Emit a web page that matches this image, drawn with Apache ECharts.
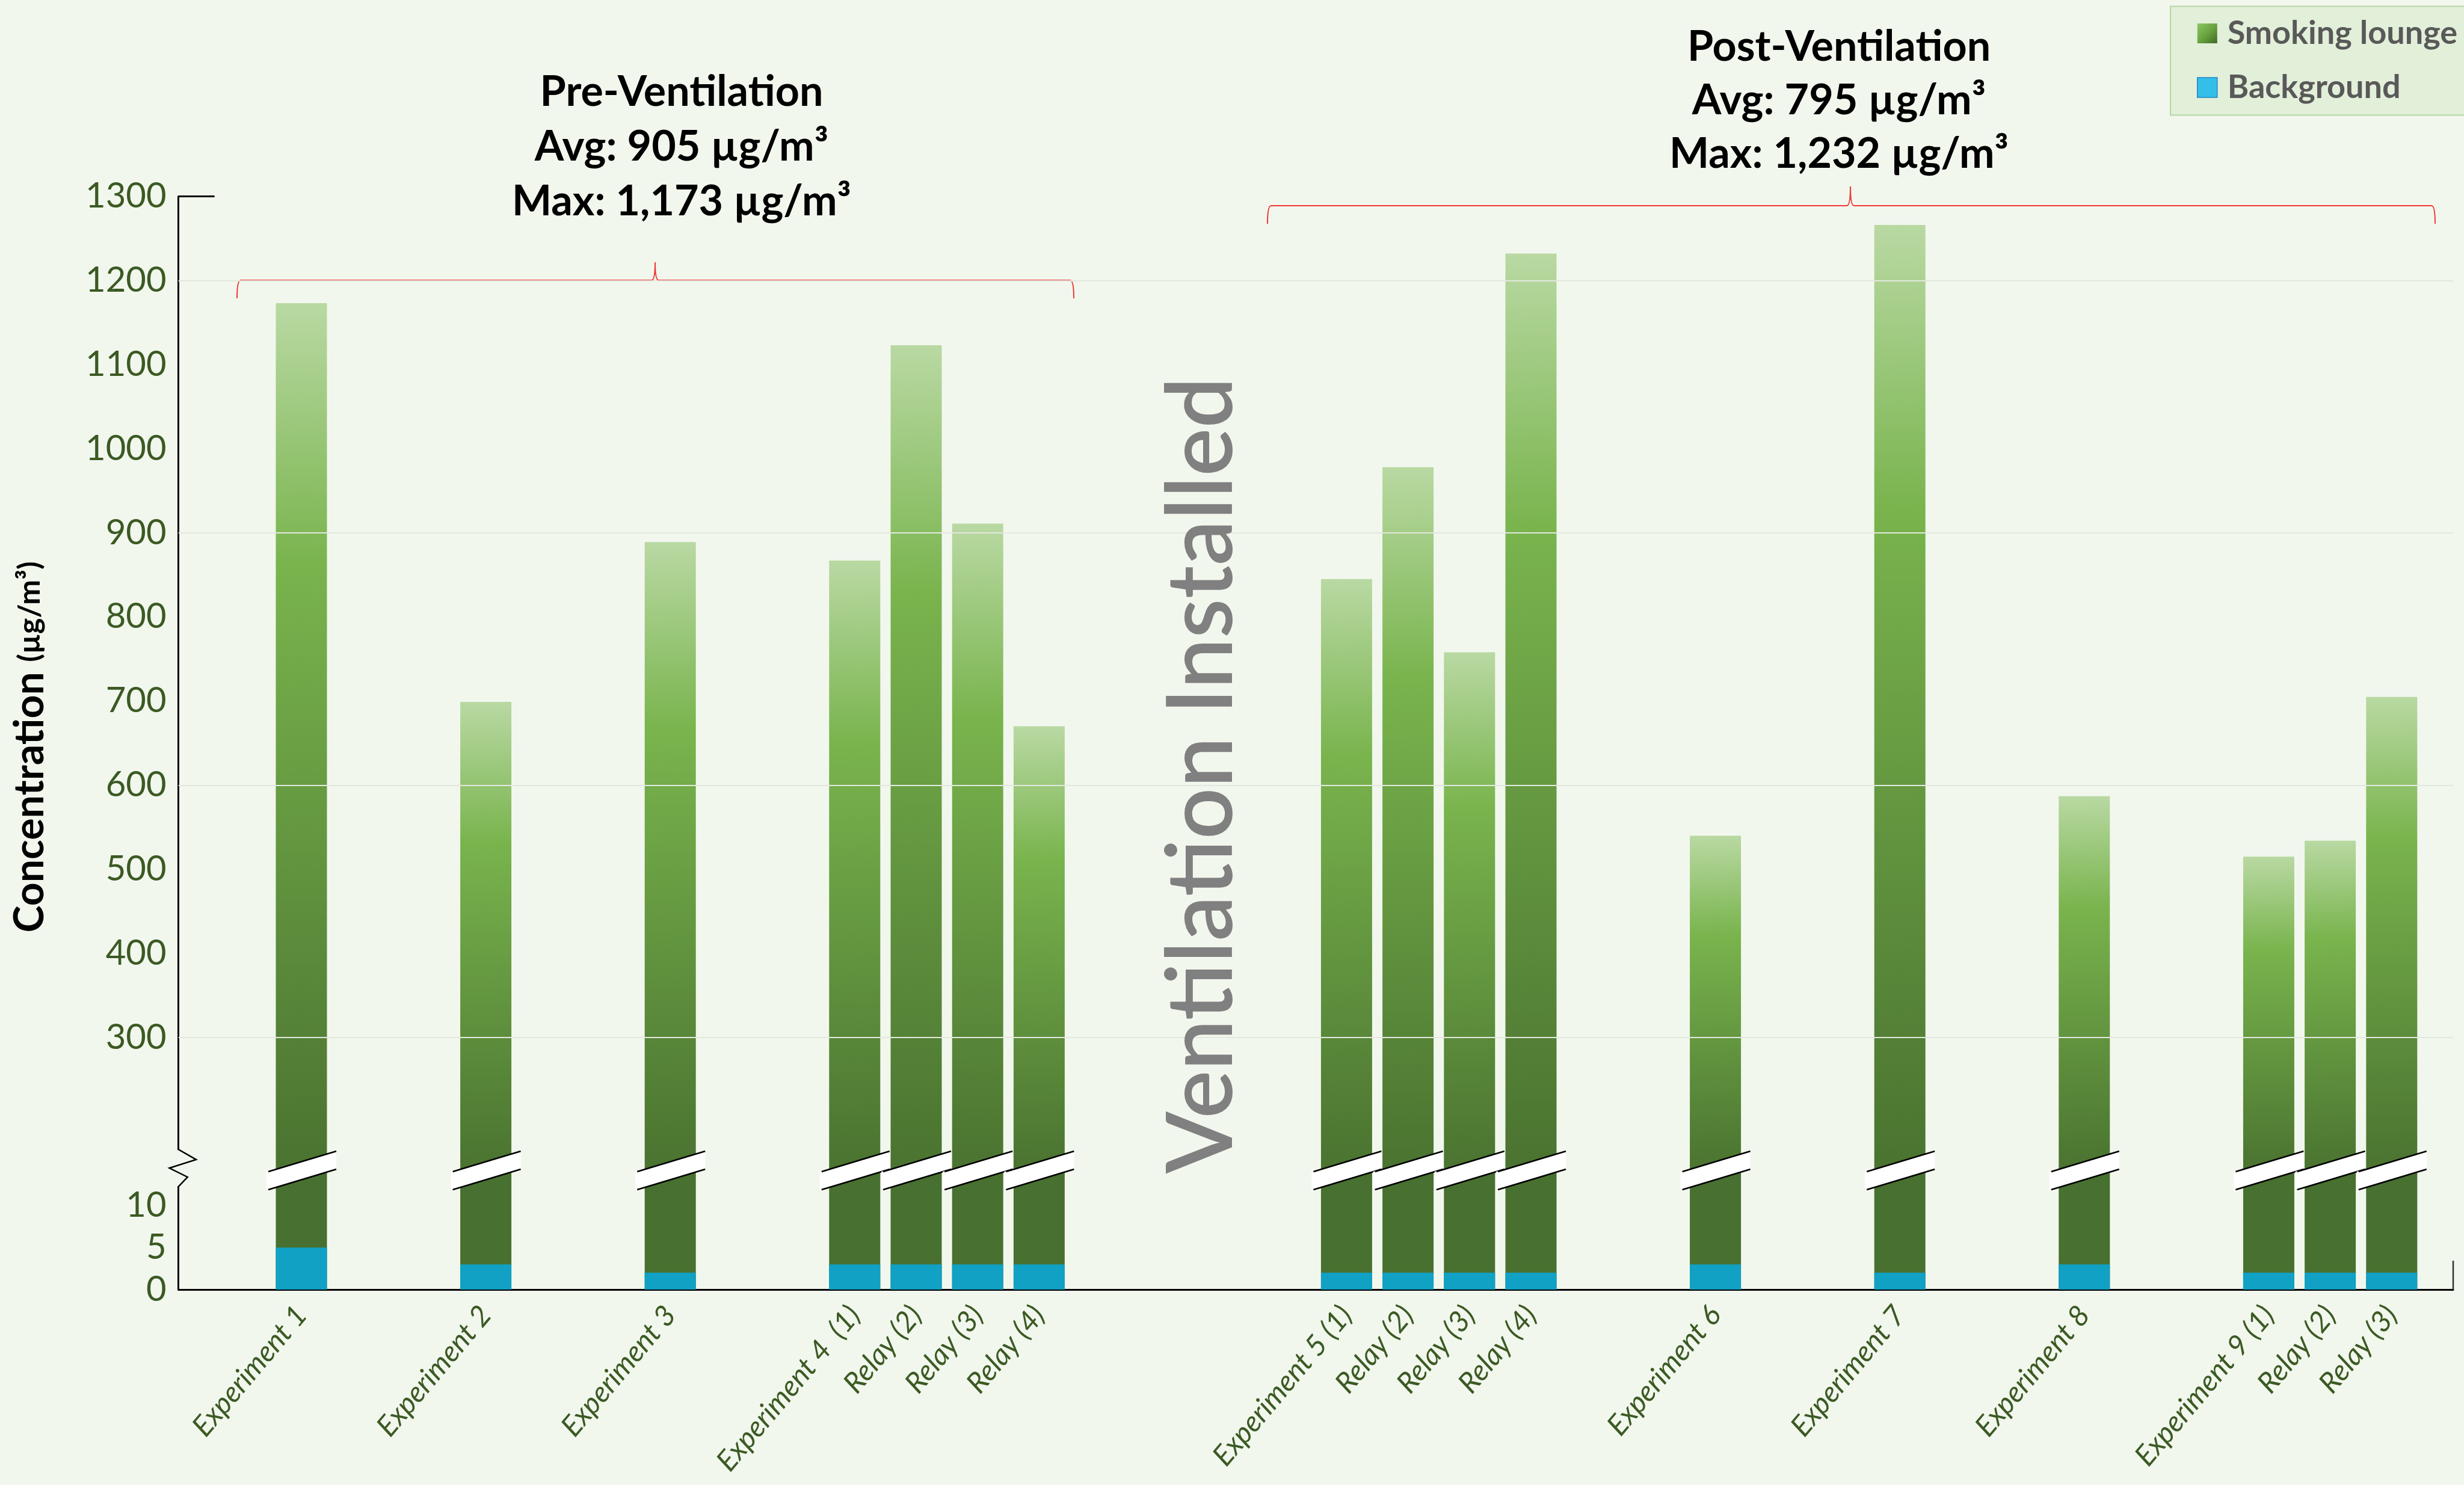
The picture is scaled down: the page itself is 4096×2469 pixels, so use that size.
<!DOCTYPE html>
<html>
<head>
<meta charset="utf-8">
<title>Smoking lounge concentration</title>
<script src="https://cdn.jsdelivr.net/npm/echarts@6/dist/echarts.min.js"></script>
<style>
  html, body { margin: 0; padding: 0; background: #f2f7ee; }
  #chart { width: 4096px; height: 2469px; }
</style>
</head>
<body>
<div id="chart"></div>
<script>
// categories, blank entries are the gaps between experiments
let categories = ['', '', 'Experiment 1', '', '', 'Experiment 2', '', '', 'Experiment 3', '', '',
  'Experiment 4  (1)', 'Relay (2)', 'Relay (3)', 'Relay (4)', '', '', '', '',
  'Experiment 5 (1)', 'Relay (2)', 'Relay (3)', 'Relay (4)', '', '', 'Experiment 6', '', '',
  'Experiment 7', '', '', 'Experiment 8', '', '', 'Experiment 9 (1)', 'Relay (2)', 'Relay (3)', '']
let smoking = [null, null, 1173, null, null, 699, null, null, 889, null, null,
  867, 1123, 911, 670, null, null, null, null,
  845, 978, 758, 1232, null, null, 540, null, null,
  1266, null, null, 587, null, null, 515, 534, 705, null]
let background = [null, null, 5, null, null, 3, null, null, 2, null, null,
  3, 3, 3, 3, null, null, null, null,
  2, 2, 2, 2, null, null, 3, null, null,
  2, null, null, 3, null, null, 2, 2, 2, null]
let upperTicks = [300, 400, 500, 600, 700, 800, 900, 1000, 1100, 1200, 1300]
let lowerTicks = [0, 5, 10]
let gridValues = [300, 600, 900, 1200]
let preNote = ['Pre-Ventilation', 'Avg: 905 µg/m³', 'Max: 1,173 µg/m³']
let postNote = ['Post-Ventilation', 'Avg: 795 µg/m³', 'Max: 1,232 µg/m³']

// layout (px)
let L = 296.6, R = 4078
let upTop = 326.5, split = 1946, lowBottom = 2144
let upMin = 142, upMax = 1300, lowMax = 14.2
let bg = '#f2f7ee'
let labelColor = '#3b5a23'

let barGradient = {
  type: 'linear', x: 0, y: 0, x2: 0.15, y2: 1,
  colorStops: [
    { offset: 0, color: '#b9d9a3' },
    { offset: 0.3, color: '#79b44d' },
    { offset: 1, color: '#4a7330' }
  ]
}
let legendGreen = {
  type: 'linear', x: 0, y: 0, x2: 1, y2: 1,
  colorStops: [{ offset: 0, color: '#8cc665' }, { offset: 0.5, color: '#6aa440' }, { offset: 1, color: '#3f6a26' }]
}

let breakData = []
smoking.forEach((v, i) => { if (v != null) breakData.push([i, lowMax]) })

function renderBreak(params, api) {
  let p = api.coord([api.value(0), api.value(1)])
  let hw = 58, dy = 17, th = 15
  let lx = p[0] - hw, rx = p[0] + hw
  let ly = p[1] + dy, ry = p[1] - dy
  return {
    type: 'group',
    children: [
      { type: 'polygon', shape: { points: [[lx, ly - th], [rx, ry - th], [rx, ry + th], [lx, ly + th]] }, style: { fill: '#ffffff' } },
      { type: 'line', shape: { x1: lx + 3, y1: ly - th, x2: rx, y2: ry - th }, style: { stroke: '#000', lineWidth: 2.5 } },
      { type: 'line', shape: { x1: lx + 3, y1: ly + th, x2: rx, y2: ry + th }, style: { stroke: '#000', lineWidth: 2.5 } }
    ]
  }
}

// curly brace lying on its side: hooks down at both ends, spike up in the middle
function brace(x1, x2, xc, y, drop, rise) {
  let r = 6
  let st = { stroke: '#f03535', lineWidth: 2, fill: null }
  let seg = (a, b, c, d) => ({ type: 'line', shape: { x1: a, y1: b, x2: c, y2: d }, style: st })
  let curve = (a, b, cx, cy, c, d) => ({ type: 'bezierCurve', shape: { x1: a, y1: b, cpx1: cx, cpy1: cy, x2: c, y2: d }, style: st })
  return {
    type: 'group', z: 10,
    children: [
      curve(x1, y + drop, x1, y, x1 + r, y),
      seg(x1 + r, y, xc - r, y),
      curve(xc - r, y, xc, y, xc, y - rise),
      curve(xc, y - rise, xc, y, xc + r, y),
      seg(xc + r, y, x2 - r, y),
      curve(x2 - r, y, x2, y, x2, y + drop)
    ]
  }
}

function noteTexts(lines, cx, ys) {
  return lines.map((t, k) => ({
    type: 'text', x: cx, y: ys[k], z: 10,
    style: { text: t, fill: '#000', font: 'bold 70px Lato', align: 'center', verticalAlign: 'middle' }
  }))
}

let graphics = [
  // y axis title
  {
    type: 'text', x: 50, y: 1242, rotation: Math.PI / 2, z: 10,
    style: {
      text: '{a|Concentration} {b|(µg/m³)}', font: 'bold 68px Lato', fill: '#000',
      align: 'center', verticalAlign: 'middle',
      rich: { a: { font: 'bold 68px Lato', fill: '#000' }, b: { font: 'bold 50px Lato', fill: '#000' } }
    }
  },
  {
    type: 'text', x: 1999, y: 1289, rotation: Math.PI / 2, scaleX: 0.99, z: 10,
    style: { text: 'Ventilation Installed', fill: '#808080', font: '600 152px Lato', align: 'center', verticalAlign: 'middle' }
  },
  // axis break zigzag
  { type: 'rect', shape: { x: 289, y: 1912, width: 15, height: 60 }, style: { fill: bg }, z: 20 },
  {
    type: 'polyline', z: 21,
    shape: { points: [[296.6, 1909], [296.6, 1911], [326, 1928], [281.6, 1942], [311.7, 1957], [296.6, 1973], [296.6, 1975]] },
    style: { stroke: '#000', lineWidth: 2.5, fill: null }
  },
  // right end tick
  { type: 'line', shape: { x1: R, y1: lowBottom - 48, x2: R, y2: lowBottom }, style: { stroke: '#333', lineWidth: 2.5 }, z: 10 },
  brace(394, 1785, 1089, 466, 30, 30),
  brace(2107, 4048, 3076, 342, 30, 32)
].concat(noteTexts(preNote, 1133, [153, 244, 335]), noteTexts(postNote, 3057, [78, 167, 256]))

let option = {
  animation: false,
  backgroundColor: bg,
  textStyle: { fontFamily: 'Lato' },
  legend: {
    orient: 'vertical', left: 3608, top: 10.5,
    padding: [18, 40, 19, 44], itemGap: 36,
    itemWidth: 33, itemHeight: 33,
    backgroundColor: '#e2efd9', borderColor: '#b4d89f', borderWidth: 2,
    textStyle: { fontFamily: 'Lato', fontWeight: 'bold', fontSize: 54, color: '#595959', padding: [0, 0, 0, 12] },
    data: [
      { name: 'Smoking lounge', icon: 'rect', itemStyle: { color: legendGreen } },
      { name: 'Background', icon: 'rect', itemStyle: { color: '#34bfe9', borderColor: '#1f86c4', borderWidth: 1.5 } }
    ]
  },
  grid: [
    { left: L, width: R - L, top: upTop, height: split - upTop },
    { left: L, width: R - L, top: split, height: lowBottom - split }
  ],
  xAxis: [
    { gridIndex: 0, type: 'category', data: categories, boundaryGap: false, show: false },
    {
      gridIndex: 1, type: 'category', data: categories, boundaryGap: false,
      axisLine: { lineStyle: { color: '#000', width: 3 } },
      axisTick: { show: false },
      axisLabel: { interval: 0, rotate: 50, margin: 34, fontSize: 48, fontStyle: 'italic', color: labelColor, fontFamily: 'Lato' }
    }
  ],
  yAxis: [
    {
      gridIndex: 0, type: 'value', min: upMin, max: upMax, startValue: upMin,
      axisLine: { show: true, lineStyle: { color: '#000', width: 3 } },
      axisTick: { show: true, inside: true, length: 60, customValues: [1300], lineStyle: { color: '#000', width: 3 } },
      axisLabel: { customValues: upperTicks, formatter: v => String(v), fontSize: 58, color: labelColor, margin: 20, fontFamily: 'Lato' },
      splitLine: { show: false }
    },
    {
      gridIndex: 1, type: 'value', min: 0, max: lowMax,
      axisLine: { show: true, lineStyle: { color: '#000', width: 3 } },
      axisTick: { show: false },
      axisLabel: { customValues: lowerTicks, formatter: v => String(v), fontSize: 58, color: labelColor, margin: 20, fontFamily: 'Lato' },
      splitLine: { show: false }
    }
  ],
  series: [
    {
      name: 'Smoking lounge', type: 'bar', xAxisIndex: 0, yAxisIndex: 0,
      data: smoking, barWidth: 85, itemStyle: { color: barGradient },
      markLine: {
        silent: true, symbol: 'none', label: { show: false },
        lineStyle: { color: '#e2e8de', width: 2, type: 'solid' },
        data: gridValues.map(v => ({ yAxis: v }))
      },
      z: 2
    },
    {
      name: 'Smoking lounge', type: 'bar', xAxisIndex: 1, yAxisIndex: 1,
      data: smoking, barWidth: 85, itemStyle: { color: '#487030' }
    },
    {
      name: 'Background', type: 'bar', xAxisIndex: 1, yAxisIndex: 1,
      data: background, barWidth: 85, barGap: '-100%', itemStyle: { color: '#10a1c5' }
    },
    {
      type: 'custom', xAxisIndex: 1, yAxisIndex: 1,
      data: breakData, renderItem: renderBreak, z: 5, silent: true
    }
  ],
  graphic: graphics
}

let myChart = echarts.init(document.getElementById('chart'))
myChart.setOption(option)
</script>
</body>
</html>
